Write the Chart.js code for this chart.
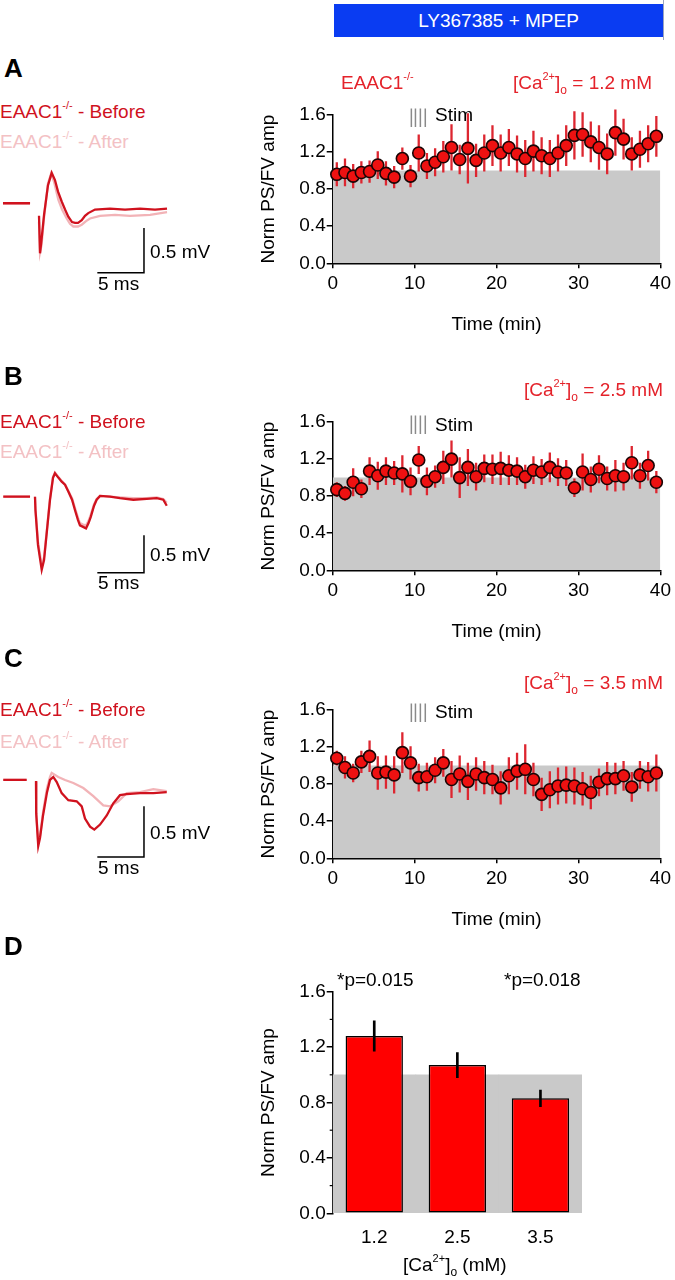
<!DOCTYPE html>
<html>
<head>
<meta charset="utf-8">
<script src="https://cdn.jsdelivr.net/npm/chart.js@4.4.1/dist/chart.umd.min.js"></script>
<style>
  body { margin: 0; width: 675px; height: 1280px; position: relative; background: #fff; overflow: hidden;
         font-family: "Liberation Sans", Arial, sans-serif; }
  canvas { position: absolute; }
  .t { position: absolute; font-size: 19px; line-height: 22px; white-space: nowrap; color: #000; }
  .t sup { font-size: 11px; vertical-align: 0; position: relative; top: -9px; }
  .t sub { font-size: 12px; vertical-align: 0; position: relative; top: 5px; }
  .letter { position: absolute; left: 4px; font-size: 26px; font-weight: bold; line-height: 26px; }
  .red { color: #e4222a; }
  .before { color: #d0121e; }
  .after { color: #f3c1c4; }
  #header { position: absolute; left: 334px; top: 4px; width: 329px; height: 33px; background: #0a3cf2;
            color: #fff; font-size: 19px; line-height: 33px; text-align: center; }
  #headerEdge { position: absolute; left: 663px; top: 0; width: 1px; height: 40px; background: #9aa4c0; }
</style>
</head>
<body>

<canvas id="traceA" width="240" height="130" style="left:0;top:160px"></canvas>
<canvas id="traceB" width="240" height="135" style="left:0;top:460px"></canvas>
<canvas id="traceC" width="240" height="110" style="left:0;top:760px"></canvas>
<canvas id="timeA" width="425" height="245" style="left:250px;top:95px"></canvas>
<canvas id="timeB" width="425" height="245" style="left:250px;top:402px"></canvas>
<canvas id="timeC" width="425" height="245" style="left:250px;top:690px"></canvas>
<canvas id="barsD" width="425" height="310" style="left:250px;top:970px"></canvas>

<div id="header">LY367385 + MPEP</div>
<div id="headerEdge"></div>

<div class="letter" style="top:55px">A</div>
<div class="letter" style="top:363px">B</div>
<div class="letter" style="top:645px">C</div>
<div class="letter" style="top:933px">D</div>

<div class="t before" style="left:0;top:101px">EAAC1<sup>-/-</sup> - Before</div>
<div class="t after" style="left:0;top:131px">EAAC1<sup>-/-</sup> - After</div>
<div class="t before" style="left:0;top:411px">EAAC1<sup>-/-</sup> - Before</div>
<div class="t after" style="left:0;top:441px">EAAC1<sup>-/-</sup> - After</div>
<div class="t before" style="left:0;top:699px">EAAC1<sup>-/-</sup> - Before</div>
<div class="t after" style="left:0;top:731px">EAAC1<sup>-/-</sup> - After</div>

<div class="t" style="left:150px;top:241px">0.5 mV</div>
<div class="t" style="left:98px;top:273px">5 ms</div>
<div class="t" style="left:150px;top:544px">0.5 mV</div>
<div class="t" style="left:98px;top:572px">5 ms</div>
<div class="t" style="left:150px;top:822px">0.5 mV</div>
<div class="t" style="left:98px;top:857px">5 ms</div>

<div class="t red" style="left:341px;top:72px">EAAC1<sup>-/-</sup></div>
<div class="t red" style="right:23px;top:72px">[Ca<sup>2+</sup>]<sub>o</sub> = 1.2 mM</div>
<div class="t red" style="right:12px;top:379px">[Ca<sup>2+</sup>]<sub>o</sub> = 2.5 mM</div>
<div class="t red" style="right:12px;top:672px">[Ca<sup>2+</sup>]<sub>o</sub> = 3.5 mM</div>

<div class="t" style="left:435px;top:104px">Stim</div>
<div class="t" style="left:435px;top:414px">Stim</div>
<div class="t" style="left:435px;top:701px">Stim</div>

<div class="t" style="left:337px;top:969px">*p=0.015</div>
<div class="t" style="left:504px;top:969px">*p=0.018</div>
<div class="t" style="left:403px;top:1254px">[Ca<sup>2+</sup>]<sub>o</sub> (mM)</div>

<script>
// time points (min)
const minutes = [0.5, 1.5, 2.5, 3.5, 4.5, 5.5, 6.5, 7.5, 8.5, 9.5,
                 10.5, 11.5, 12.5, 13.5, 14.5, 15.5, 16.5, 17.5, 18.5, 19.5,
                 20.5, 21.5, 22.5, 23.5, 24.5, 25.5, 26.5, 27.5, 28.5, 29.5,
                 30.5, 31.5, 32.5, 33.5, 34.5, 35.5, 36.5, 37.5, 38.5, 39.5];

// [Ca2+]o = 1.2 mM
const ampA = [0.96, 0.98, 0.94, 0.98, 0.99, 1.06, 0.97, 0.93, 1.13, 0.94,
              1.19, 1.05, 1.09, 1.15, 1.25, 1.12, 1.24, 1.11, 1.19, 1.27,
              1.19, 1.25, 1.18, 1.13, 1.21, 1.16, 1.13, 1.19, 1.27, 1.38,
              1.39, 1.31, 1.25, 1.18, 1.41, 1.34, 1.18, 1.23, 1.29, 1.37];
const errA = [0.13, 0.15, 0.13, 0.12, 0.12, 0.15, 0.13, 0.12, 0.12, 0.12,
              0.20, 0.14, 0.15, 0.17, 0.25, 0.16, 0.38, 0.18, 0.20, 0.22,
              0.20, 0.20, 0.20, 0.20, 0.22, 0.20, 0.20, 0.20, 0.22, 0.26,
              0.24, 0.22, 0.24, 0.22, 0.25, 0.22, 0.18, 0.20, 0.20, 0.22];

// [Ca2+]o = 2.5 mM
const ampB = [0.87, 0.83, 0.95, 0.88, 1.07, 1.02, 1.07, 1.05, 1.04, 0.96,
              1.19, 0.96, 1.01, 1.11, 1.20, 1.00, 1.11, 1.01, 1.10, 1.09,
              1.10, 1.08, 1.07, 1.01, 1.08, 1.06, 1.11, 1.06, 1.05, 0.89,
              1.06, 0.98, 1.09, 0.99, 1.02, 1.01, 1.16, 1.02, 1.13, 0.95];
const errB = [0.08, 0.08, 0.15, 0.10, 0.15, 0.15, 0.15, 0.13, 0.20, 0.15,
              0.15, 0.15, 0.12, 0.18, 0.20, 0.22, 0.20, 0.15, 0.15, 0.16,
              0.18, 0.16, 0.15, 0.13, 0.15, 0.14, 0.16, 0.15, 0.14, 0.10,
              0.20, 0.14, 0.15, 0.13, 0.17, 0.15, 0.18, 0.14, 0.16, 0.12];

// [Ca2+]o = 3.5 mM
const ampC = [1.08, 0.98, 0.92, 1.04, 1.10, 0.92, 0.93, 0.90, 1.14, 1.03,
              0.87, 0.88, 0.95, 1.03, 0.85, 0.91, 0.83, 0.91, 0.87, 0.85,
              0.76, 0.89, 0.94, 0.96, 0.85, 0.69, 0.74, 0.78, 0.79, 0.78,
              0.75, 0.71, 0.82, 0.86, 0.86, 0.89, 0.77, 0.90, 0.88, 0.92];
const errC = [0.08, 0.12, 0.10, 0.12, 0.17, 0.18, 0.18, 0.20, 0.22, 0.18,
              0.15, 0.15, 0.14, 0.15, 0.20, 0.20, 0.20, 0.18, 0.18, 0.16,
              0.18, 0.20, 0.20, 0.27, 0.18, 0.18, 0.20, 0.20, 0.20, 0.20,
              0.18, 0.18, 0.15, 0.18, 0.17, 0.16, 0.16, 0.15, 0.16, 0.20];

const baseline = 1.0;
const stimTimes = [9.6, 10.1, 10.7, 11.3];
const stimRange = [1.47, 1.67];

// panel D
const barCategories = ['1.2', '2.5', '3.5'];
const barMeans = [1.28, 1.07, 0.83];
const barErrs = [0.11, 0.09, 0.06];
const baselineBand = [1.0, 1.0, 1.0];

// example traces, [ms, mV]
const traceABefore = [[0.32, 0], [3.22, 0], [3.6, null], [4.18, -0.14], [4.29, -0.56], [4.45, -0.41], [4.72, -0.13],
  [5.14, 0.20], [5.54, 0.34], [5.89, 0.26], [6.22, 0.13], [6.61, 0.02], [6.97, -0.07], [7.32, -0.15],
  [7.72, -0.21], [8.04, -0.22], [8.36, -0.22], [8.76, -0.19], [9.11, -0.14], [9.46, -0.11], [10.18, -0.07],
  [11.79, -0.06], [13.40, -0.07], [15.01, -0.06], [16.61, -0.07], [17.90, -0.06]];
const traceAAfter = [[0.32, 0], [3.22, 0], [3.6, null], [4.18, -0.21], [4.29, -0.55], [4.45, -0.47], [4.72, -0.16],
  [5.14, 0.22], [5.47, 0.33], [5.79, 0.24], [6.25, 0.04], [6.65, -0.07], [7.15, -0.17], [7.50, -0.23],
  [7.86, -0.26], [8.36, -0.26], [8.76, -0.24], [9.22, -0.20], [9.65, -0.17], [10.72, -0.14], [12.33, -0.13],
  [13.93, -0.14], [16.08, -0.13], [17.90, -0.10]];
const traceBBefore = [[0.35, 0], [3.22, 0], [3.5, null], [3.75, 0], [3.80, -0.18], [4.07, -0.64], [4.47, -0.97],
  [4.72, -0.84], [5.04, -0.44], [5.36, -0.04], [5.68, 0.25], [5.89, 0.31], [6.27, 0.25], [6.61, 0.20],
  [6.97, 0.16], [7.32, 0.07], [7.72, -0.04], [8.04, -0.18], [8.36, -0.31], [8.57, -0.38], [8.90, -0.40],
  [9.22, -0.42], [9.49, -0.35], [9.72, -0.27], [10.08, -0.12], [10.36, -0.04], [10.72, 0.01], [11.79, 0],
  [12.86, -0.02], [14.29, -0.04], [15.72, -0.03], [16.80, -0.02], [17.50, -0.04], [17.87, -0.12]];
const traceBAfter = [[0.35, 0], [3.22, 0], [3.5, null], [3.75, 0], [3.80, -0.16], [4.07, -0.60], [4.47, -0.91],
  [4.72, -0.80], [5.04, -0.42], [5.36, -0.02], [5.68, 0.26], [5.89, 0.32], [6.27, 0.26], [6.61, 0.21],
  [6.97, 0.16], [7.32, 0.08], [7.72, -0.02], [8.04, -0.15], [8.36, -0.28], [8.57, -0.35], [8.90, -0.37],
  [9.22, -0.38], [9.49, -0.32], [9.72, -0.24], [10.08, -0.10], [10.36, -0.03], [10.72, 0.01], [11.79, 0],
  [12.86, -0.01], [14.29, -0.02], [15.72, -0.02], [16.80, -0.01], [17.50, -0.03], [17.87, -0.08]];
const traceCBefore = [[0.35, 0], [2.86, 0], [3.3, null], [3.86, -0.01], [3.88, -0.33], [4.10, -0.65], [4.29, -0.57],
  [4.61, -0.35], [5.04, -0.12], [5.36, 0], [5.71, 0.03], [6.08, -0.02], [6.61, -0.13], [7.32, -0.20],
  [8.22, -0.21], [8.76, -0.26], [9.11, -0.38], [9.65, -0.46], [10.11, -0.49], [10.72, -0.44], [11.44, -0.35],
  [12.14, -0.23], [12.86, -0.15], [13.58, -0.14], [15.01, -0.13], [16.43, -0.13], [17.87, -0.12]];
const traceCAfter = [[0.35, 0], [2.86, 0], [3.3, null], [3.86, -0.02], [3.88, -0.32], [4.10, -0.62], [4.29, -0.55],
  [4.61, -0.32], [5.04, -0.08], [5.36, 0.03], [5.54, 0.07], [6.25, 0.03], [6.97, 0], [7.86, -0.03],
  [8.93, -0.08], [10.0, -0.16], [11.07, -0.25], [11.79, -0.26], [12.68, -0.21], [13.58, -0.13], [15.01, -0.12],
  [16.43, -0.09], [17.87, -0.11]];

// scale bars: 5 ms x 0.5 mV, corner [ms, mV]
const barCornerA = [15.43, -0.777];
const barCornerB = [15.43, -1.01];
const barCornerC = [15.43, -0.76];

const grey = '#c9c9c9';
const font = 'Liberation Sans, Arial, sans-serif';
Chart.defaults.font.family = font;
Chart.defaults.font.size = 19;
Chart.defaults.color = '#000';

const isMajor = v => Math.round(v * 10) % 4 === 0;

// short ticks for the 0.2 steps between labels
const minorTicks = {
  id: 'minorTicks',
  afterDraw(chart) {
    const y = chart.scales.y;
    const ctx = chart.ctx;
    ctx.save();
    ctx.strokeStyle = '#000';
    ctx.lineWidth = 1.2;
    y.ticks.forEach(t => {
      if (!isMajor(t.value)) {
        const py = y.getPixelForValue(t.value);
        ctx.beginPath();
        ctx.moveTo(y.right - 3, py);
        ctx.lineTo(y.right, py);
        ctx.stroke();
      }
    });
    ctx.restore();
  }
};

function yAxis() {
  return {
    min: 0, max: 1.6,
    afterFit: s => { s.width = 82.7; },
    border: { color: '#000', width: 1.5 },
    grid: { drawOnChartArea: false, tickLength: 6, lineWidth: 1.5,
            tickColor: c => (c.tick && isMajor(c.tick.value)) ? '#000' : 'rgba(0,0,0,0)' },
    ticks: { stepSize: 0.2, padding: 1, callback: v => isMajor(v) ? v.toFixed(1) : '' },
    title: { display: true, text: 'Norm PS/FV amp', padding: { top: 7.6, bottom: 0 } }
  };
}

function timeChart(id, amps, errs) {
  const errLine = [];
  minutes.forEach((t, i) => {
    errLine.push({ x: t, y: amps[i] - errs[i] }, { x: t, y: amps[i] + errs[i] }, { x: t, y: null });
  });
  const stimLine = [];
  stimTimes.forEach(t => {
    stimLine.push({ x: t, y: stimRange[0] }, { x: t, y: stimRange[1] }, { x: t, y: null });
  });

  new Chart(document.getElementById(id), {
    type: 'scatter',
    data: {
      datasets: [
        { type: 'line', data: [{ x: 0, y: baseline }, { x: 40, y: baseline }], fill: 'origin',
          backgroundColor: grey, borderWidth: 0, borderColor: grey, pointRadius: 0, order: 4 },
        { type: 'line', data: errLine, borderColor: '#dd2630', borderWidth: 2.3, pointRadius: 0,
          spanGaps: false, clip: false, order: 3 },
        { type: 'line', data: stimLine, borderColor: '#8a8a8a', borderWidth: 1.5, pointRadius: 0,
          spanGaps: false, clip: false, order: 3 },
        { data: minutes.map((t, i) => ({ x: t, y: amps[i] })), pointRadius: 6,
          pointBackgroundColor: '#ee1111', pointBorderColor: '#1a0505', pointBorderWidth: 1.6,
          clip: false, order: 1 }
      ]
    },
    options: {
      responsive: false, animation: false, devicePixelRatio: 1,
      layout: { padding: { top: 20, right: 11.7, bottom: 0, left: 0 }, autoPadding: false },
      plugins: { legend: { display: false }, tooltip: { enabled: false } },
      scales: {
        x: {
          type: 'linear', min: 0, max: 40,
          afterFit: s => { s.height = 76.7; },
          border: { color: '#000', width: 1.5 },
          grid: { drawOnChartArea: false, tickLength: 5, color: '#000', lineWidth: 1.5 },
          ticks: { stepSize: 10, padding: 4, maxRotation: 0 },
          title: { display: true, text: 'Time (min)', padding: { top: 0, bottom: 3.6 } }
        },
        y: yAxis()
      }
    },
    plugins: [minorTicks]
  });
}

function traceChart(id, before, after, corner, yMin, yMax) {
  const xy = arr => arr.map(p => ({ x: p[0], y: p[1] }));
  const scaleBar = [
    { x: corner[0] - 5, y: corner[1] },
    { x: corner[0], y: corner[1] },
    { x: corner[0], y: corner[1] + 0.5 }
  ];
  new Chart(document.getElementById(id), {
    type: 'scatter',
    data: {
      datasets: [
        { type: 'line', data: xy(after), borderColor: '#f2b3b7', borderWidth: 2.3, pointRadius: 0, spanGaps: false, order: 3 },
        { type: 'line', data: xy(before), borderColor: '#d0121e', borderWidth: 2.3, pointRadius: 0, spanGaps: false, order: 2 },
        { type: 'line', data: scaleBar, borderColor: '#000', borderWidth: 1.5, pointRadius: 0, order: 1 }
      ]
    },
    options: {
      responsive: false, animation: false, devicePixelRatio: 1,
      layout: { padding: 0, autoPadding: false },
      plugins: { legend: { display: false }, tooltip: { enabled: false } },
      scales: {
        x: { type: 'linear', display: false, min: 0, max: 25.72 },
        y: { display: false, min: yMin, max: yMax }
      }
    }
  });
}

traceChart('traceA', traceABefore, traceAAfter, barCornerA, -0.970, 0.484);
traceChart('traceB', traceBBefore, traceBAfter, barCornerB, -1.304, 0.487);
traceChart('traceC', traceCBefore, traceCAfter, barCornerC, -0.888, 0.197);

timeChart('timeA', ampA, errA);
timeChart('timeB', ampB, errB);
timeChart('timeC', ampC, errC);

new Chart(document.getElementById('barsD'), {
  type: 'bar',
  data: {
    labels: barCategories,
    datasets: [
      { data: baselineBand, backgroundColor: grey, borderWidth: 0, barPercentage: 1, categoryPercentage: 1, order: 3 },
      { data: barMeans, backgroundColor: '#ff0000', borderColor: '#000', borderWidth: 1.5, borderSkipped: false,
        barPercentage: 0.69, categoryPercentage: 1, order: 2 },
      { data: barMeans.map((m, i) => [m - barErrs[i], m + barErrs[i]]), backgroundColor: '#000',
        barThickness: 2, order: 1 }
    ]
  },
  options: {
    responsive: false, animation: false, devicePixelRatio: 1,
    datasets: { bar: { grouped: false } },
    layout: { padding: { top: 21.7, right: 93, bottom: 0, left: 0 }, autoPadding: false },
    plugins: { legend: { display: false }, tooltip: { enabled: false } },
    scales: {
      x: {
        afterFit: s => { s.height = 66.7; },
        border: { display: false },
        grid: { display: false, drawTicks: false },
        ticks: { padding: 13 }
      },
      y: yAxis()
    }
  },
  plugins: [minorTicks]
});
</script>
</body>
</html>
